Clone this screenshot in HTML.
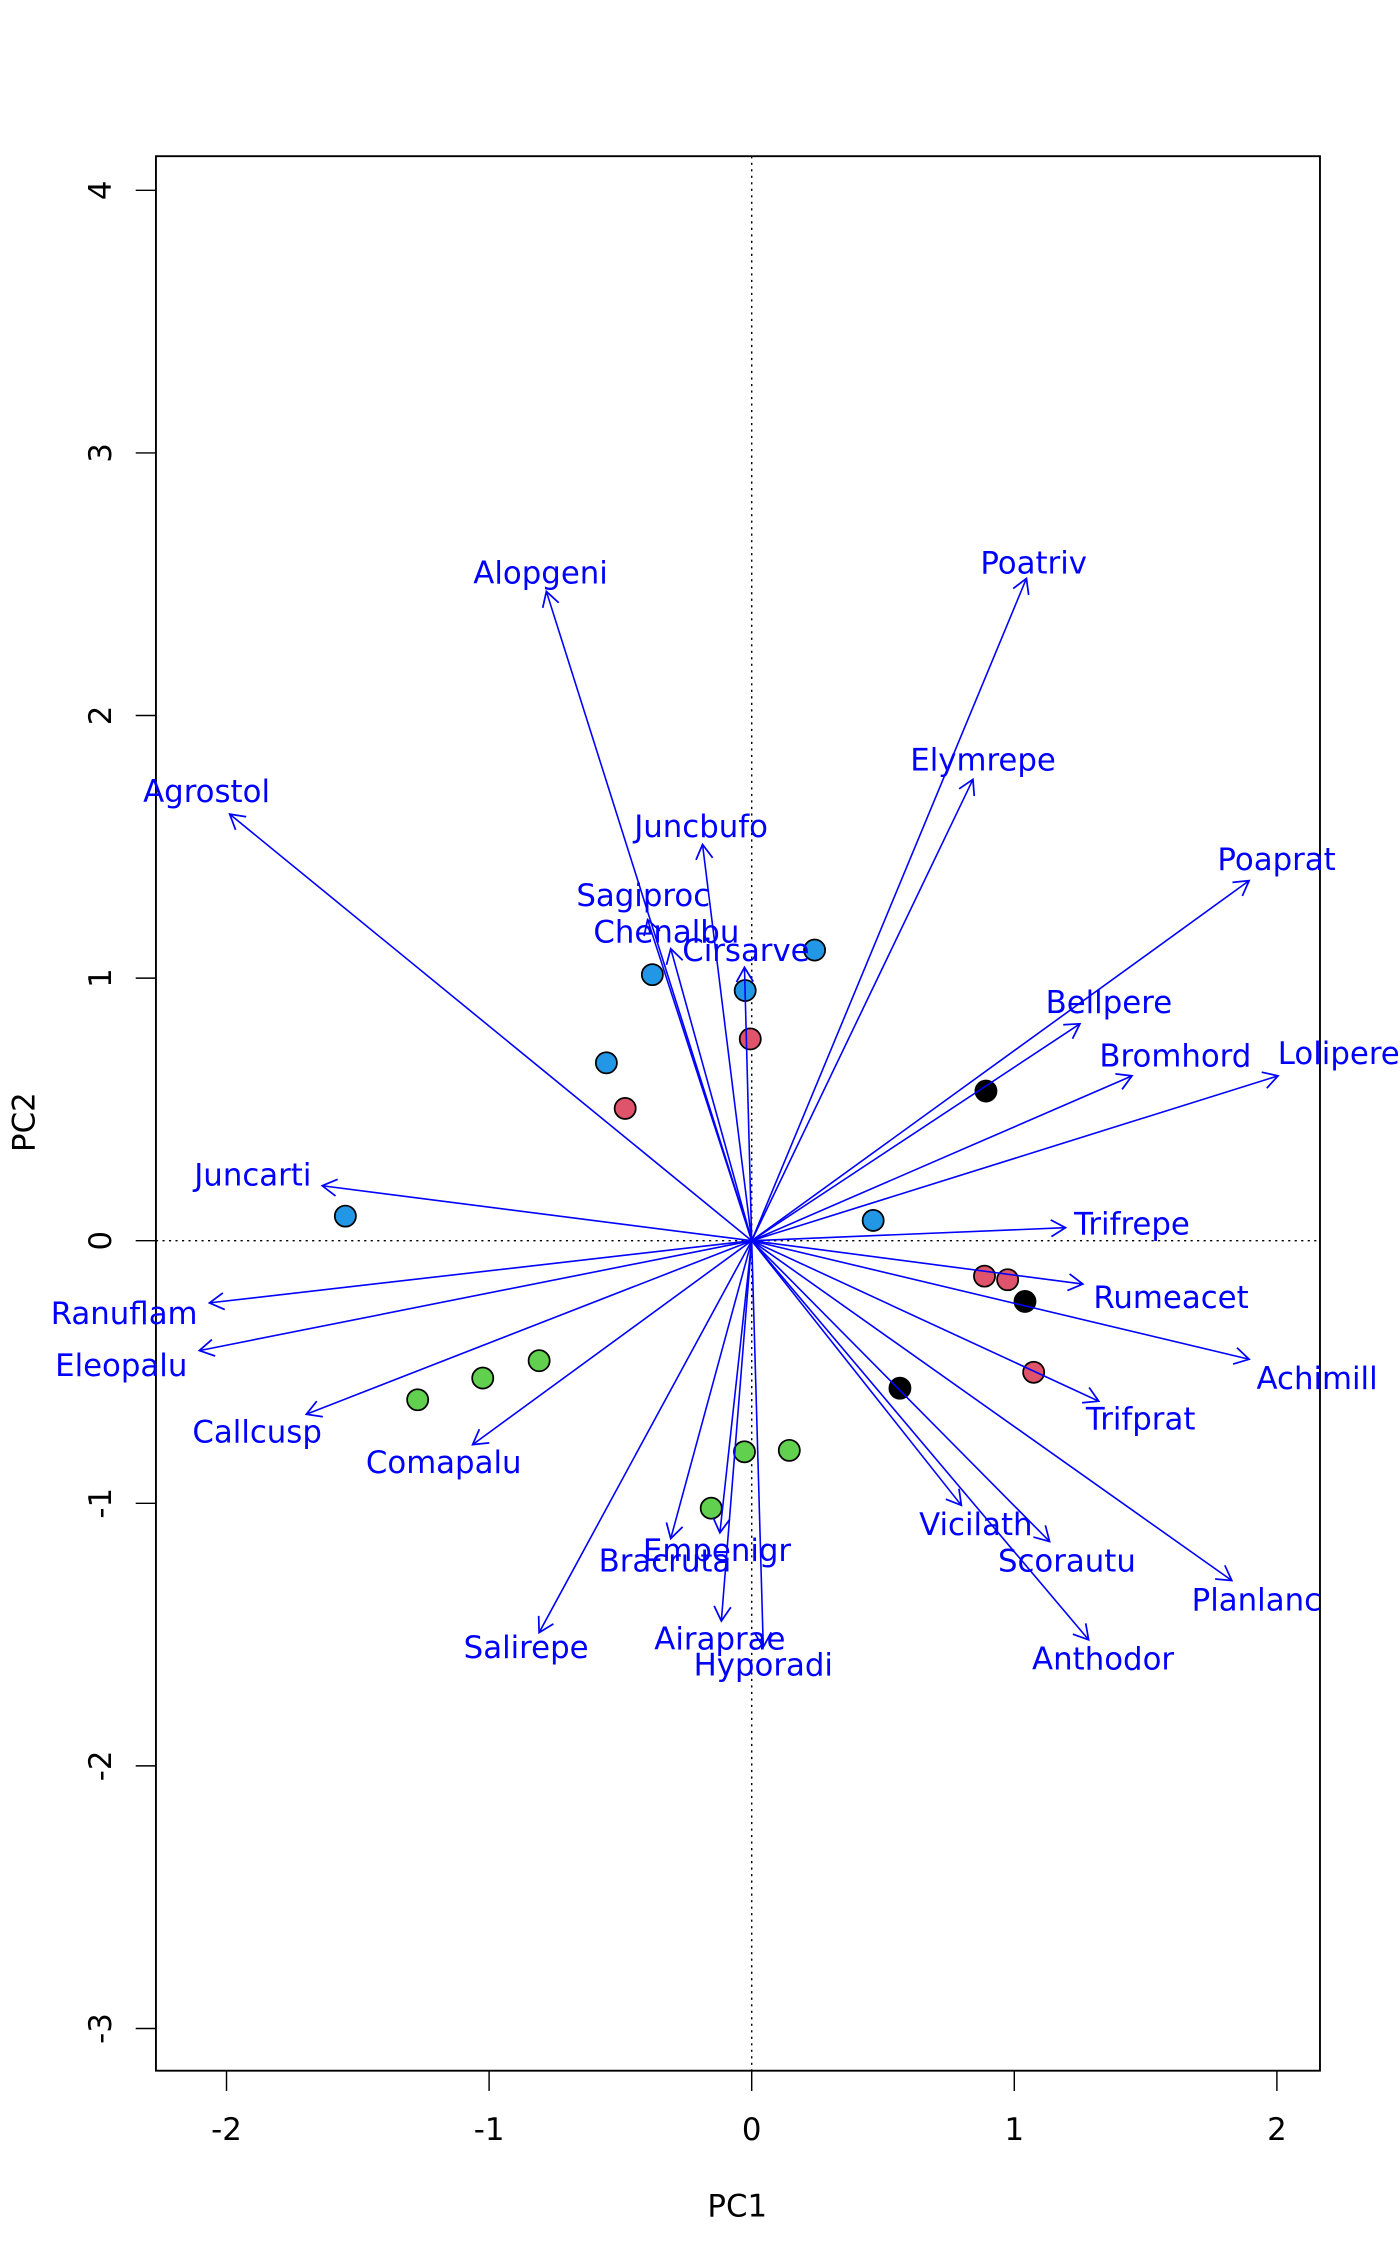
<!DOCTYPE html>
<html><head><meta charset="utf-8"><style>
html,body{margin:0;padding:0;background:#fff;}
svg{display:block;}
text{font-family:"DejaVu Sans","Liberation Sans",sans-serif;}
</style></head><body>
<svg width="1400" height="2266" viewBox="0 0 1400 2266" xmlns="http://www.w3.org/2000/svg">
<defs>
<marker id="ah" viewBox="-12 -8 14 16" refX="0" refY="0" markerWidth="14" markerHeight="16" markerUnits="userSpaceOnUse" orient="auto">
<path d="M-10,-5.8 L0,0 L-10,5.8" fill="none" stroke="#0000ff" stroke-width="1.2"/>
</marker>
</defs>
<g transform="translate(751.7 1240.7) scale(1.446) translate(-520 -858)">
<!-- box -->
<rect x="108" y="108" width="805" height="1324" fill="none" stroke="#000" stroke-width="1.3"/>
<!-- zero lines -->
<line x1="108" y1="858" x2="913" y2="858" stroke="#000" stroke-width="1" stroke-dasharray="1.5 3"/>
<line x1="520" y1="108" x2="520" y2="1432" stroke="#000" stroke-width="1" stroke-dasharray="1.5 3"/>
<!-- x ticks -->
<g stroke="#000" stroke-width="1">
<line x1="156.8" y1="1432" x2="156.8" y2="1446"/>
<line x1="338.4" y1="1432" x2="338.4" y2="1446"/>
<line x1="520" y1="1432" x2="520" y2="1446"/>
<line x1="701.6" y1="1432" x2="701.6" y2="1446"/>
<line x1="883.2" y1="1432" x2="883.2" y2="1446"/>
<line x1="94" y1="131.6" x2="108" y2="131.6"/>
<line x1="94" y1="313.2" x2="108" y2="313.2"/>
<line x1="94" y1="494.8" x2="108" y2="494.8"/>
<line x1="94" y1="676.4" x2="108" y2="676.4"/>
<line x1="94" y1="858" x2="108" y2="858"/>
<line x1="94" y1="1039.6" x2="108" y2="1039.6"/>
<line x1="94" y1="1221.2" x2="108" y2="1221.2"/>
<line x1="94" y1="1402.8" x2="108" y2="1402.8"/>
</g>
<g font-size="21.3" fill="#000" text-anchor="middle">
<text x="156.8" y="1480">-2</text>
<text x="338.4" y="1480">-1</text>
<text x="520" y="1480">0</text>
<text x="701.6" y="1480">1</text>
<text x="883.2" y="1480">2</text>
<text transform="translate(77 131.6) rotate(-90)">4</text>
<text transform="translate(77 313.2) rotate(-90)">3</text>
<text transform="translate(77 494.8) rotate(-90)">2</text>
<text transform="translate(77 676.4) rotate(-90)">1</text>
<text transform="translate(77 858) rotate(-90)">0</text>
<text transform="translate(77 1039.6) rotate(-90)">-1</text>
<text transform="translate(77 1221.2) rotate(-90)">-2</text>
<text transform="translate(77 1402.8) rotate(-90)">-3</text>
<text x="510" y="1533">PC1</text>
<text transform="translate(24 776) rotate(-90)">PC2</text>
</g>
<!-- points -->
<g stroke="#000" stroke-width="1.2">
<circle cx="451.3" cy="674" r="7.3" fill="#2297E6"/>
<circle cx="515.5" cy="685" r="7.3" fill="#2297E6"/>
<circle cx="563.5" cy="657" r="7.3" fill="#2297E6"/>
<circle cx="419.5" cy="735" r="7.3" fill="#2297E6"/>
<circle cx="239" cy="841" r="7.3" fill="#2297E6"/>
<circle cx="604" cy="844" r="7.3" fill="#2297E6"/>
<circle cx="519" cy="718.5" r="7.3" fill="#DF536B"/>
<circle cx="432.5" cy="766.5" r="7.3" fill="#DF536B"/>
<circle cx="681" cy="882.5" r="7.3" fill="#DF536B"/>
<circle cx="697" cy="885" r="7.3" fill="#DF536B"/>
<circle cx="715" cy="949" r="7.3" fill="#DF536B"/>
<circle cx="682" cy="754.5" r="7.3" fill="#000"/>
<circle cx="709" cy="900" r="7.3" fill="#000"/>
<circle cx="622.5" cy="960" r="7.3" fill="#000"/>
<circle cx="289" cy="968" r="7.3" fill="#61D04F"/>
<circle cx="334" cy="953" r="7.3" fill="#61D04F"/>
<circle cx="373" cy="941" r="7.3" fill="#61D04F"/>
<circle cx="515" cy="1004" r="7.3" fill="#61D04F"/>
<circle cx="546" cy="1003" r="7.3" fill="#61D04F"/>
<circle cx="492" cy="1043" r="7.3" fill="#61D04F"/>
</g>
<!-- arrows -->
<g stroke="#0000ff" stroke-width="1.1" marker-end="url(#ah)">
<line x1="520" y1="858" x2="378" y2="409"/>
<line x1="520" y1="858" x2="710" y2="400"/>
<line x1="520" y1="858" x2="673" y2="539"/>
<line x1="520" y1="858" x2="159" y2="563"/>
<line x1="520" y1="858" x2="486" y2="584"/>
<line x1="520" y1="858" x2="864" y2="609"/>
<line x1="520" y1="858" x2="448" y2="636"/>
<line x1="520" y1="858" x2="464" y2="656"/>
<line x1="520" y1="858" x2="515" y2="669"/>
<line x1="520" y1="858" x2="747" y2="708"/>
<line x1="520" y1="858" x2="783" y2="744"/>
<line x1="520" y1="858" x2="884" y2="744"/>
<line x1="520" y1="858" x2="737" y2="849"/>
<line x1="520" y1="858" x2="223" y2="820"/>
<line x1="520" y1="858" x2="145" y2="901"/>
<line x1="520" y1="858" x2="138" y2="934"/>
<line x1="520" y1="858" x2="749" y2="888"/>
<line x1="520" y1="858" x2="864" y2="940"/>
<line x1="520" y1="858" x2="760" y2="969"/>
<line x1="520" y1="858" x2="212" y2="978"/>
<line x1="520" y1="858" x2="327" y2="999"/>
<line x1="520" y1="858" x2="665" y2="1041"/>
<line x1="520" y1="858" x2="726" y2="1066"/>
<line x1="520" y1="858" x2="852" y2="1093"/>
<line x1="520" y1="858" x2="753" y2="1134"/>
<line x1="520" y1="858" x2="373" y2="1129"/>
<line x1="520" y1="858" x2="464" y2="1064"/>
<line x1="520" y1="858" x2="498" y2="1060"/>
<line x1="520" y1="858" x2="499" y2="1121"/>
<line x1="520" y1="858" x2="528" y2="1139"/>
</g>
<!-- labels -->
<g font-size="21.3" fill="#0000ff" text-anchor="middle">
<text x="374" y="396" dy="0.36em">Alopgeni</text>
<text x="715" y="389" dy="0.36em">Poatriv</text>
<text x="680" y="525" dy="0.36em">Elymrepe</text>
<text x="143" y="547" dy="0.36em">Agrostol</text>
<text x="485" y="571" dy="0.36em">Juncbufo</text>
<text x="883" y="594" dy="0.36em">Poaprat</text>
<text x="445" y="619" dy="0.36em">Sagiproc</text>
<text x="461" y="644" dy="0.36em">Chenalbu</text>
<text x="516" y="657" dy="0.36em">Cirsarve</text>
<text x="767" y="693" dy="0.36em">Bellpere</text>
<text x="813" y="730" dy="0.36em">Bromhord</text>
<text x="926" y="728" dy="0.36em">Lolipere</text>
<text x="783" y="846" dy="0.36em">Trifrepe</text>
<text x="175" y="812" dy="0.36em">Juncarti</text>
<text x="86" y="908" dy="0.36em">Ranuflam</text>
<text x="84" y="944" dy="0.36em">Eleopalu</text>
<text x="810" y="897" dy="0.36em">Rumeacet</text>
<text x="911" y="953" dy="0.36em">Achimill</text>
<text x="789" y="981" dy="0.36em">Trifprat</text>
<text x="178" y="990" dy="0.36em">Callcusp</text>
<text x="307" y="1011" dy="0.36em">Comapalu</text>
<text x="675" y="1054" dy="0.36em">Vicilath</text>
<text x="738" y="1079" dy="0.36em">Scorautu</text>
<text x="869" y="1106" dy="0.36em">Planlanc</text>
<text x="763" y="1147" dy="0.36em">Anthodor</text>
<text x="364" y="1139" dy="0.36em">Salirepe</text>
<text x="460" y="1079" dy="0.36em">Bracruta</text>
<text x="496" y="1072" dy="0.36em">Empenigr</text>
<text x="498" y="1133" dy="0.36em">Airaprae</text>
<text x="528" y="1151" dy="0.36em">Hyporadi</text>
</g>
</g>
</svg>
</body></html>
